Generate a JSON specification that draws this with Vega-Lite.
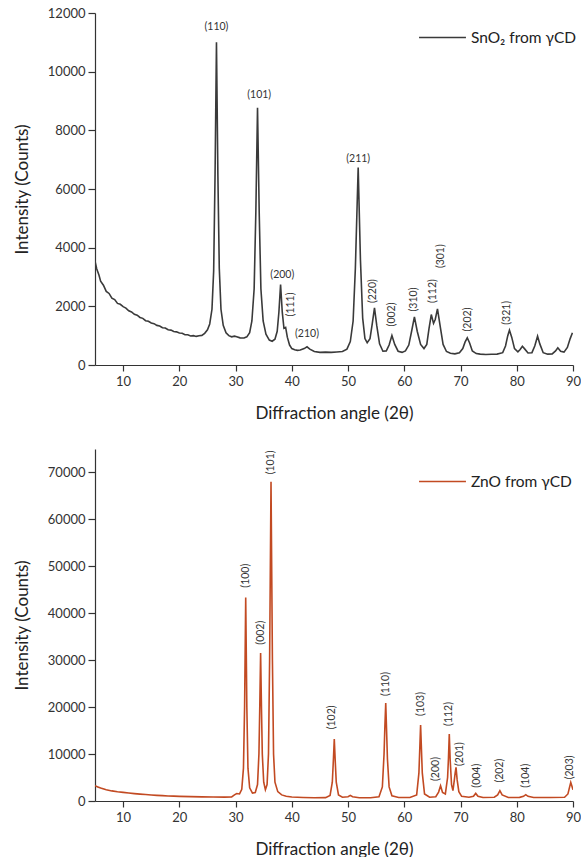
{
  "$schema": "https://vega.github.io/schema/vega-lite/v6.json",
  "padding": {"left": 13, "top": 7, "right": 0, "bottom": 0},
  "background": "white",
  "spacing": 28,
  "config": {
    "view": {"stroke": null},
    "font": "Lato",
    "axis": {
      "grid": false,
      "domainColor": "#333333",
      "domainWidth": 1.2,
      "tickColor": "#333333",
      "tickWidth": 1.2,
      "labelFont": "Lato",
      "labelFontSize": 13,
      "labelColor": "#333333",
      "labelOverlap": false,
      "titleFont": "Lato",
      "titleFontSize": 17,
      "titleFontWeight": "normal",
      "titleColor": "#222222"
    },
    "legend": {
      "orient": "none",
      "legendX": 323,
      "symbolType": "stroke",
      "symbolSize": 2200,
      "symbolStrokeWidth": 1.5,
      "labelFont": "Lato",
      "labelFontSize": 15.5,
      "labelColor": "#222222",
      "labelOffset": 4,
      "padding": 0,
      "title": null
    }
  },
  "datasets": {
    "sno2": [
      {"x": 5.0, "y": 3540}, {"x": 5.3, "y": 3280}, {"x": 5.7, "y": 3070}, {"x": 6.0, "y": 2860}, {"x": 6.5, "y": 2720},
      {"x": 7.0, "y": 2510}, {"x": 7.5, "y": 2440}, {"x": 8.0, "y": 2280}, {"x": 8.5, "y": 2230}, {"x": 9.0, "y": 2100},
      {"x": 9.5, "y": 2070}, {"x": 10.0, "y": 1990}, {"x": 10.5, "y": 1940}, {"x": 11.0, "y": 1850}, {"x": 11.5, "y": 1810},
      {"x": 12.0, "y": 1730}, {"x": 12.5, "y": 1700}, {"x": 13.0, "y": 1620}, {"x": 13.5, "y": 1590}, {"x": 14.0, "y": 1510},
      {"x": 14.5, "y": 1490}, {"x": 15.0, "y": 1430}, {"x": 15.5, "y": 1410}, {"x": 16.0, "y": 1350}, {"x": 16.5, "y": 1330},
      {"x": 17.0, "y": 1270}, {"x": 17.5, "y": 1260}, {"x": 18.0, "y": 1200}, {"x": 18.5, "y": 1190}, {"x": 19.0, "y": 1140},
      {"x": 19.5, "y": 1130}, {"x": 20.0, "y": 1090}, {"x": 20.5, "y": 1080}, {"x": 21.0, "y": 1030}, {"x": 21.5, "y": 1030},
      {"x": 22.0, "y": 990}, {"x": 22.5, "y": 1000}, {"x": 23.0, "y": 975}, {"x": 23.5, "y": 995}, {"x": 24.0, "y": 1010},
      {"x": 24.5, "y": 1080}, {"x": 25.0, "y": 1200}, {"x": 25.4, "y": 1400}, {"x": 25.8, "y": 1900}, {"x": 26.1, "y": 3200},
      {"x": 26.35, "y": 6500}, {"x": 26.6, "y": 11000}, {"x": 26.85, "y": 6500}, {"x": 27.1, "y": 3300}, {"x": 27.4, "y": 1900},
      {"x": 27.8, "y": 1350}, {"x": 28.3, "y": 1100}, {"x": 28.8, "y": 1000}, {"x": 29.3, "y": 960}, {"x": 29.8, "y": 985},
      {"x": 30.2, "y": 965}, {"x": 30.8, "y": 925}, {"x": 31.5, "y": 920}, {"x": 32.0, "y": 960}, {"x": 32.5, "y": 1100},
      {"x": 32.9, "y": 1500}, {"x": 33.3, "y": 2600}, {"x": 33.6, "y": 5200}, {"x": 33.9, "y": 8770}, {"x": 34.2, "y": 5200},
      {"x": 34.5, "y": 2600}, {"x": 34.9, "y": 1500}, {"x": 35.4, "y": 1050}, {"x": 36.0, "y": 850}, {"x": 36.5, "y": 810},
      {"x": 37.0, "y": 880}, {"x": 37.4, "y": 1150}, {"x": 37.7, "y": 1800}, {"x": 38.0, "y": 2745}, {"x": 38.3, "y": 1800},
      {"x": 38.6, "y": 1250}, {"x": 38.9, "y": 1280}, {"x": 39.2, "y": 950}, {"x": 39.6, "y": 680}, {"x": 40.0, "y": 560},
      {"x": 40.5, "y": 520}, {"x": 41.0, "y": 500}, {"x": 41.5, "y": 510}, {"x": 42.2, "y": 560}, {"x": 42.7, "y": 620},
      {"x": 43.2, "y": 540}, {"x": 44.0, "y": 460}, {"x": 45.0, "y": 430}, {"x": 46.0, "y": 440}, {"x": 47.0, "y": 430},
      {"x": 48.0, "y": 445}, {"x": 49.0, "y": 460}, {"x": 49.8, "y": 540}, {"x": 50.4, "y": 800}, {"x": 50.9, "y": 1500},
      {"x": 51.3, "y": 3300}, {"x": 51.8, "y": 6730}, {"x": 52.2, "y": 3600}, {"x": 52.6, "y": 1600}, {"x": 53.0, "y": 900},
      {"x": 53.4, "y": 760}, {"x": 53.9, "y": 900}, {"x": 54.3, "y": 1400}, {"x": 54.7, "y": 1950}, {"x": 55.1, "y": 1350},
      {"x": 55.6, "y": 720}, {"x": 56.2, "y": 470}, {"x": 56.8, "y": 480}, {"x": 57.3, "y": 680}, {"x": 57.8, "y": 1006},
      {"x": 58.3, "y": 700}, {"x": 58.9, "y": 470}, {"x": 59.6, "y": 430}, {"x": 60.2, "y": 480}, {"x": 60.8, "y": 680},
      {"x": 61.3, "y": 1150}, {"x": 61.8, "y": 1643}, {"x": 62.3, "y": 1150}, {"x": 62.9, "y": 700}, {"x": 63.5, "y": 560},
      {"x": 64.0, "y": 700}, {"x": 64.4, "y": 1250}, {"x": 64.8, "y": 1720}, {"x": 65.2, "y": 1420}, {"x": 65.5, "y": 1550},
      {"x": 65.9, "y": 1916}, {"x": 66.4, "y": 1300}, {"x": 66.9, "y": 700}, {"x": 67.5, "y": 460}, {"x": 68.2, "y": 400},
      {"x": 69.0, "y": 380}, {"x": 69.8, "y": 420}, {"x": 70.4, "y": 560}, {"x": 70.8, "y": 780}, {"x": 71.2, "y": 927},
      {"x": 71.6, "y": 760}, {"x": 72.1, "y": 480}, {"x": 72.8, "y": 390}, {"x": 73.5, "y": 370}, {"x": 74.5, "y": 360},
      {"x": 75.5, "y": 365}, {"x": 76.5, "y": 370}, {"x": 77.5, "y": 420}, {"x": 78.0, "y": 650}, {"x": 78.4, "y": 1000},
      {"x": 78.7, "y": 1187}, {"x": 79.1, "y": 950}, {"x": 79.6, "y": 560}, {"x": 80.2, "y": 450}, {"x": 80.6, "y": 530},
      {"x": 81.0, "y": 641}, {"x": 81.4, "y": 550}, {"x": 82.0, "y": 410}, {"x": 82.7, "y": 420}, {"x": 83.2, "y": 650},
      {"x": 83.7, "y": 982}, {"x": 84.1, "y": 720}, {"x": 84.7, "y": 420}, {"x": 85.5, "y": 370}, {"x": 86.3, "y": 380},
      {"x": 86.9, "y": 480}, {"x": 87.3, "y": 586}, {"x": 87.8, "y": 470}, {"x": 88.4, "y": 440}, {"x": 89.0, "y": 600},
      {"x": 89.5, "y": 900}, {"x": 89.9, "y": 1098}
    ],
    "sno2lab": [
      {"x": 26.6, "y": 11517, "label": "(110)", "angle": 0},
      {"x": 34.2, "y": 9200, "label": "(101)", "angle": 0},
      {"x": 38.3, "y": 3085, "label": "(200)", "angle": 0},
      {"x": 39.8, "y": 2063, "label": "(111)", "angle": -90},
      {"x": 42.7, "y": 1040, "label": "(210)", "angle": 0},
      {"x": 51.8, "y": 7030, "label": "(211)", "angle": 0},
      {"x": 54.5, "y": 2517, "label": "(220)", "angle": -90},
      {"x": 57.9, "y": 1722, "label": "(002)", "angle": -90},
      {"x": 61.7, "y": 2233, "label": "(310)", "angle": -90},
      {"x": 65.1, "y": 2517, "label": "(112)", "angle": -90},
      {"x": 66.6, "y": 3710, "label": "(301)", "angle": -90},
      {"x": 71.4, "y": 1551, "label": "(202)", "angle": -90},
      {"x": 78.3, "y": 1780, "label": "(321)", "angle": -90}
    ],
    "zno": [
      {"x": 5.0, "y": 3260}, {"x": 5.5, "y": 3000}, {"x": 6.0, "y": 2750}, {"x": 7.0, "y": 2400}, {"x": 8.0, "y": 2150},
      {"x": 9.0, "y": 1960}, {"x": 10.0, "y": 1830}, {"x": 11.0, "y": 1700}, {"x": 12.0, "y": 1580}, {"x": 13.0, "y": 1470},
      {"x": 14.0, "y": 1370}, {"x": 15.0, "y": 1280}, {"x": 16.0, "y": 1200}, {"x": 17.0, "y": 1140}, {"x": 18.0, "y": 1080},
      {"x": 19.0, "y": 1030}, {"x": 20.0, "y": 990}, {"x": 22.0, "y": 930}, {"x": 24.0, "y": 880}, {"x": 26.0, "y": 850},
      {"x": 28.0, "y": 830}, {"x": 29.3, "y": 850}, {"x": 29.8, "y": 1300}, {"x": 30.2, "y": 1600}, {"x": 30.7, "y": 1500},
      {"x": 31.1, "y": 2500}, {"x": 31.4, "y": 7000}, {"x": 31.6, "y": 20000}, {"x": 31.8, "y": 43380}, {"x": 32.0, "y": 20000},
      {"x": 32.2, "y": 7000}, {"x": 32.5, "y": 2800}, {"x": 33.0, "y": 1700}, {"x": 33.5, "y": 1800}, {"x": 33.9, "y": 3500},
      {"x": 34.15, "y": 10000}, {"x": 34.3, "y": 20000}, {"x": 34.45, "y": 31530}, {"x": 34.6, "y": 20000}, {"x": 34.75, "y": 10000},
      {"x": 35.0, "y": 4000}, {"x": 35.3, "y": 2400}, {"x": 35.6, "y": 3500}, {"x": 35.85, "y": 10000}, {"x": 36.05, "y": 30000},
      {"x": 36.3, "y": 68040}, {"x": 36.55, "y": 30000}, {"x": 36.75, "y": 10000}, {"x": 37.0, "y": 4000}, {"x": 37.5, "y": 2000},
      {"x": 38.2, "y": 1300}, {"x": 39.0, "y": 1000}, {"x": 40.0, "y": 850}, {"x": 42.0, "y": 750}, {"x": 44.0, "y": 700},
      {"x": 46.0, "y": 720}, {"x": 46.8, "y": 1200}, {"x": 47.2, "y": 4000}, {"x": 47.4, "y": 9000}, {"x": 47.55, "y": 13210},
      {"x": 47.7, "y": 9000}, {"x": 47.9, "y": 4000}, {"x": 48.3, "y": 1300}, {"x": 49.0, "y": 800}, {"x": 50.0, "y": 900},
      {"x": 50.4, "y": 1200}, {"x": 50.8, "y": 900}, {"x": 52.0, "y": 700}, {"x": 54.0, "y": 700}, {"x": 55.5, "y": 900},
      {"x": 56.1, "y": 3000}, {"x": 56.4, "y": 10000}, {"x": 56.55, "y": 16000}, {"x": 56.7, "y": 20880}, {"x": 56.85, "y": 15000},
      {"x": 57.0, "y": 9000}, {"x": 57.3, "y": 3000}, {"x": 57.8, "y": 1100}, {"x": 59.0, "y": 750}, {"x": 61.0, "y": 750},
      {"x": 62.2, "y": 1300}, {"x": 62.6, "y": 6000}, {"x": 62.75, "y": 11000}, {"x": 62.9, "y": 16190}, {"x": 63.05, "y": 11000},
      {"x": 63.2, "y": 6000}, {"x": 63.6, "y": 1500}, {"x": 64.5, "y": 800}, {"x": 65.6, "y": 900}, {"x": 66.1, "y": 1900},
      {"x": 66.45, "y": 3260}, {"x": 66.8, "y": 1800}, {"x": 67.3, "y": 1500}, {"x": 67.7, "y": 5000}, {"x": 67.85, "y": 9000},
      {"x": 68.0, "y": 14280}, {"x": 68.15, "y": 9000}, {"x": 68.4, "y": 3500}, {"x": 68.65, "y": 2200}, {"x": 68.9, "y": 4500},
      {"x": 69.05, "y": 6000}, {"x": 69.2, "y": 7160}, {"x": 69.4, "y": 4500}, {"x": 69.7, "y": 2000}, {"x": 70.2, "y": 1000},
      {"x": 71.5, "y": 800}, {"x": 72.3, "y": 1000}, {"x": 72.7, "y": 1620}, {"x": 73.1, "y": 1000}, {"x": 74.0, "y": 750},
      {"x": 76.0, "y": 800}, {"x": 76.6, "y": 1300}, {"x": 77.0, "y": 2190}, {"x": 77.4, "y": 1300}, {"x": 78.5, "y": 750},
      {"x": 80.5, "y": 780}, {"x": 81.2, "y": 1000}, {"x": 81.6, "y": 1340}, {"x": 82.0, "y": 1000}, {"x": 83.0, "y": 750},
      {"x": 86.0, "y": 750}, {"x": 88.5, "y": 800}, {"x": 89.1, "y": 1500}, {"x": 89.4, "y": 3000}, {"x": 89.6, "y": 3960},
      {"x": 89.8, "y": 3200}, {"x": 90.0, "y": 2400}
    ],
    "znolab": [
      {"x": 31.8, "y": 48000, "label": "(100)"},
      {"x": 34.45, "y": 35860, "label": "(002)"},
      {"x": 36.3, "y": 72150, "label": "(101)"},
      {"x": 47.1, "y": 17810, "label": "(102)"},
      {"x": 56.7, "y": 24930, "label": "(110)"},
      {"x": 63.0, "y": 20670, "label": "(103)"},
      {"x": 65.7, "y": 6820, "label": "(200)"},
      {"x": 68.0, "y": 18540, "label": "(112)"},
      {"x": 69.9, "y": 10010, "label": "(201)"},
      {"x": 72.85, "y": 5390, "label": "(004)"},
      {"x": 77.0, "y": 6460, "label": "(202)"},
      {"x": 81.6, "y": 5390, "label": "(104)"},
      {"x": 89.4, "y": 7160, "label": "(203)"}
    ]
  },
  "resolve": {"scale": {"color": "independent"}, "legend": {"color": "independent"}},
  "vconcat": [
    {
      "width": 478,
      "height": 352,
      "layer": [
        {
          "data": {"name": "sno2"},
          "mark": {"type": "line", "strokeWidth": 1.6, "clip": true},
          "encoding": {
            "x": {
              "field": "x", "type": "quantitative",
              "scale": {"domain": [5, 90], "nice": false, "zero": false},
              "axis": {
                "title": "Diffraction angle (2θ)",
                "values": [10, 15, 20, 25, 30, 35, 40, 45, 50, 55, 60, 65, 70, 75, 80, 85, 90],
                "labelExpr": "datum.value % 10 === 0 ? datum.label : ''",
                "labelOverlap": false,
                "labelFlush": false,
                "tickSize": 6,
                "labelPadding": 4,
                "titlePadding": 17,
                "encode": {"ticks": {"update": {"y2": {"signal": "datum.value % 10 === 0 ? 6 : 3"}}}}
              }
            },
            "y": {
              "field": "y", "type": "quantitative",
              "scale": {"domain": [0, 12000], "nice": false},
              "axis": {
                "title": "Intensity (Counts)",
                "format": "d",
                "values": [0, 1000, 2000, 3000, 4000, 5000, 6000, 7000, 8000, 9000, 10000, 11000, 12000],
                "labelExpr": "datum.value % 2000 === 0 ? datum.label : ''",
                "labelOverlap": false,
                "tickSize": 7,
                "labelPadding": 3,
                "titlePadding": 16,
                "encode": {"ticks": {"update": {"x2": {"signal": "datum.value % 2000 === 0 ? -7 : -4"}}}}
              }
            },
            "color": {"datum": "SnO₂ from γCD", "type": "nominal", "scale": {"range": ["#3a3a3a"]}, "legend": {"legendY": 0}}
          }
        },
        {
          "data": {"name": "sno2lab"},
          "mark": {"type": "text", "fontSize": 10.5, "font": "Lato", "color": "#333333", "align": "center", "baseline": "middle"},
          "encoding": {
            "x": {"field": "x", "type": "quantitative"},
            "y": {"field": "y", "type": "quantitative"},
            "text": {"field": "label"},
            "angle": {"field": "angle", "type": "quantitative", "scale": null}
          }
        }
      ]
    },
    {
      "width": 478,
      "height": 352,
      "layer": [
        {
          "data": {"name": "zno"},
          "mark": {"type": "line", "strokeWidth": 1.6, "clip": true},
          "encoding": {
            "x": {
              "field": "x", "type": "quantitative",
              "scale": {"domain": [5, 90], "nice": false, "zero": false},
              "axis": {
                "title": "Diffraction angle (2θ)",
                "values": [10, 15, 20, 25, 30, 35, 40, 45, 50, 55, 60, 65, 70, 75, 80, 85, 90],
                "labelExpr": "datum.value % 10 === 0 ? datum.label : ''",
                "labelOverlap": false,
                "labelFlush": false,
                "tickSize": 6,
                "labelPadding": 4,
                "titlePadding": 17,
                "encode": {"ticks": {"update": {"y2": {"signal": "datum.value % 10 === 0 ? 6 : 3"}}}}
              }
            },
            "y": {
              "field": "y", "type": "quantitative",
              "scale": {"domain": [0, 75000], "nice": false},
              "axis": {
                "title": "Intensity (Counts)",
                "format": "d",
                "values": [0, 5000, 10000, 15000, 20000, 25000, 30000, 35000, 40000, 45000, 50000, 55000, 60000, 65000, 70000, 75000],
                "labelExpr": "datum.value % 10000 === 0 ? datum.label : ''",
                "labelOverlap": false,
                "tickSize": 7,
                "labelPadding": 3,
                "titlePadding": 16,
                "encode": {"ticks": {"update": {"x2": {"signal": "datum.value % 10000 === 0 ? -7 : -4"}}}}
              }
            },
            "color": {"datum": "ZnO from γCD", "type": "nominal", "scale": {"range": ["#c24a22"]}, "legend": {"legendY": 8}}
          }
        },
        {
          "data": {"name": "znolab"},
          "mark": {"type": "text", "fontSize": 10.5, "font": "Lato", "color": "#333333", "align": "center", "baseline": "middle", "angle": 270},
          "encoding": {
            "x": {"field": "x", "type": "quantitative"},
            "y": {"field": "y", "type": "quantitative"},
            "text": {"field": "label"}
          }
        }
      ]
    }
  ]
}
